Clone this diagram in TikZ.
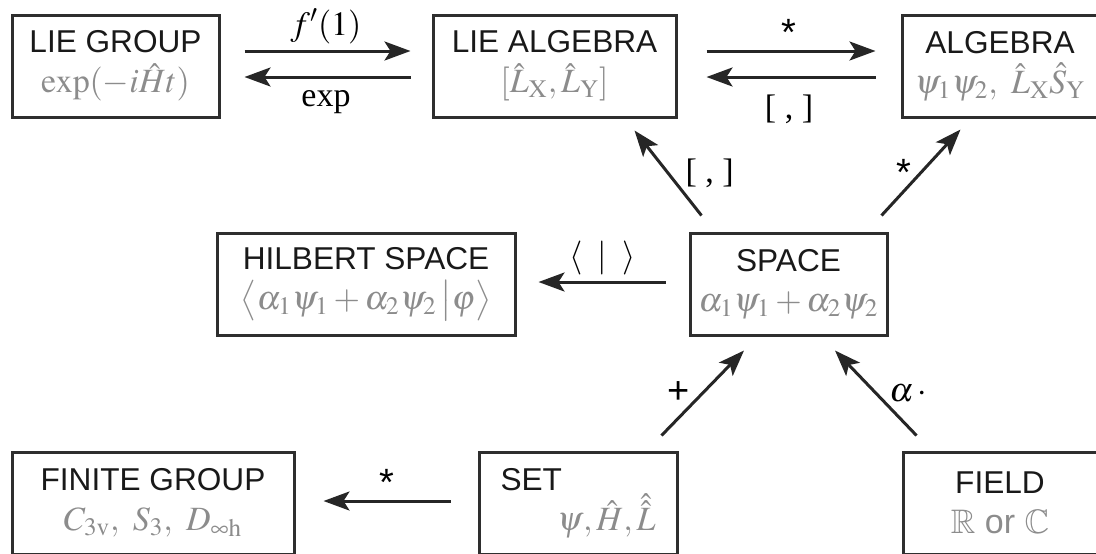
\documentclass[tikz,border=0pt]{standalone}
\usepackage{amssymb}
\usepackage{mathptmx}
\usepackage{fontspec}
\setmainfont{Liberation Serif}
\setsansfont{Liberation Sans}
\usepackage{xcolor}
\usetikzlibrary{arrows.meta}

\definecolor{boxline}{HTML}{2E2E2E}
\definecolor{subgray}{HTML}{8C8C8C}
\newcommand{\subtxt}[1]{{\color{subgray}\fontsize{17}{20}\selectfont$#1$}}

\begin{document}
\begin{tikzpicture}[x=0.5pt, y=-0.5pt,
      font=\sffamily\fontsize{15.8}{20}\selectfont,
      box/.style={draw=boxline, line width=1.5pt, align=center, minimum height=51pt, inner sep=0pt, text=black!90},
      arrow/.style={-{Stealth[length=13pt, width=9.5pt, inset=3pt]}, line width=1.5pt, draw=black!85},
      lbl/.style={font=\rmfamily\fontsize{17}{20}\selectfont, inner sep=2pt},
      sym/.style={font=\sffamily\fontsize{19}{20}\selectfont, inner sep=2pt}
    ]
      \useasboundingbox (0,0) rectangle (1096,553);
      \clip (0,0) rectangle (1096,553);

      % top row
      \node[box, minimum width=103.5pt] (lgroup) at (115.5,66) {LIE GROUP\\\subtxt{\exp(-i\hat{H}t)}};
      \node[box, minimum width=121.5pt] (lalg) at (554.5,66) {LIE ALGEBRA\\\subtxt{[\hat{L}_{\mathrm{X}},\hat{L}_{\mathrm{Y}}]}};
      \node[box, minimum width=98pt] (alg) at (1000,66) {ALGEBRA\\\subtxt{\psi_1\psi_2,\ \hat{L}_{\mathrm{X}}\hat{S}_{\mathrm{Y}}}};

      % middle row
      \node[box, minimum width=149pt] (hilb) at (366,284) {HILBERT SPACE\\\subtxt{\bigl\langle\alpha_1\psi_1+\alpha_2\psi_2\,\big|\varphi\bigr\rangle}};
      \node[box, minimum width=98.5pt] (space) at (788.5,284) {SPACE\\\subtxt{\alpha_1\psi_1+\alpha_2\psi_2}};

      % bottom row
      \node[box, minimum width=141pt] (fgroup) at (153,503) {FINITE GROUP\\\subtxt{C_{3\mathrm{v}},\ S_3,\ D_{\infty\mathrm{h}}}};
      \node[box, minimum width=99pt] (set) at (578,503) {\makebox[77.5pt][l]{SET}\\\makebox[77.5pt][r]{\subtxt{\psi,\hat{H},\hat{\hat{L}}}}};
      \node[box, minimum width=97pt] (field) at (1000,503) {FIELD\\{\color{subgray}\fontsize{17}{20}\selectfont$\mathbb{R}$ or $\mathbb{C}$}};

      % horizontal maps
      \draw[arrow, shorten <=12pt, shorten >=10.5pt] ([yshift=7.5pt]lgroup.east) -- ([yshift=7.5pt]lalg.west)
        node[lbl, midway, above=1pt] {$f'(1)$};
      \draw[arrow, shorten <=10.5pt, shorten >=12pt] ([yshift=-5.5pt]lalg.west) -- ([yshift=-5.5pt]lgroup.east)
        node[lbl, midway, below=4pt] {exp};
      \draw[arrow, shorten <=14.5pt, shorten >=12.5pt] ([yshift=7.5pt]lalg.east) -- ([yshift=7.5pt]alg.west)
        node[sym, midway, above=0pt] {*};
      \draw[arrow, shorten <=12.5pt, shorten >=14.5pt] ([yshift=-5.5pt]alg.west) -- ([yshift=-5.5pt]lalg.east)
        node[lbl, midway, below=6pt] {[ , ]};
      \draw[arrow, shorten <=11.5pt, shorten >=11pt] ([yshift=1pt]space.west) -- ([yshift=1pt]hilb.east)
        node[lbl, midway, above=1pt] {$\langle\;\;|\;\;\rangle$};
      \draw[arrow, shorten <=13.5pt, shorten >=14pt] ([yshift=1pt]set.west) -- ([yshift=1pt]fgroup.east)
        node[sym, midway, above=0pt] {*};

      % diagonal maps
      \draw[arrow] ([shift={(13,-16)}]space.north west) -- ([shift={(-43,12)}]lalg.south east)
        node[lbl, midway, right=6pt] {[ , ]};
      \draw[arrow] ([shift={(-7,-16)}]space.north east) -- ([shift={(60,11)}]alg.south west)
        node[sym, midway, left=2pt] {*};
      \draw[arrow] ([shift={(-17,-15)}]set.north east) -- ([shift={(-44.5,14)}]space.south)
        node[sym, midway, left=4pt] {+};
      \draw[arrow] ([shift={(15,-15)}]field.north west) -- ([shift={(46.5,14)}]space.south)
        node[lbl, midway, right=4pt] {$\alpha\,\cdot$};
    \end{tikzpicture}
\end{document}
